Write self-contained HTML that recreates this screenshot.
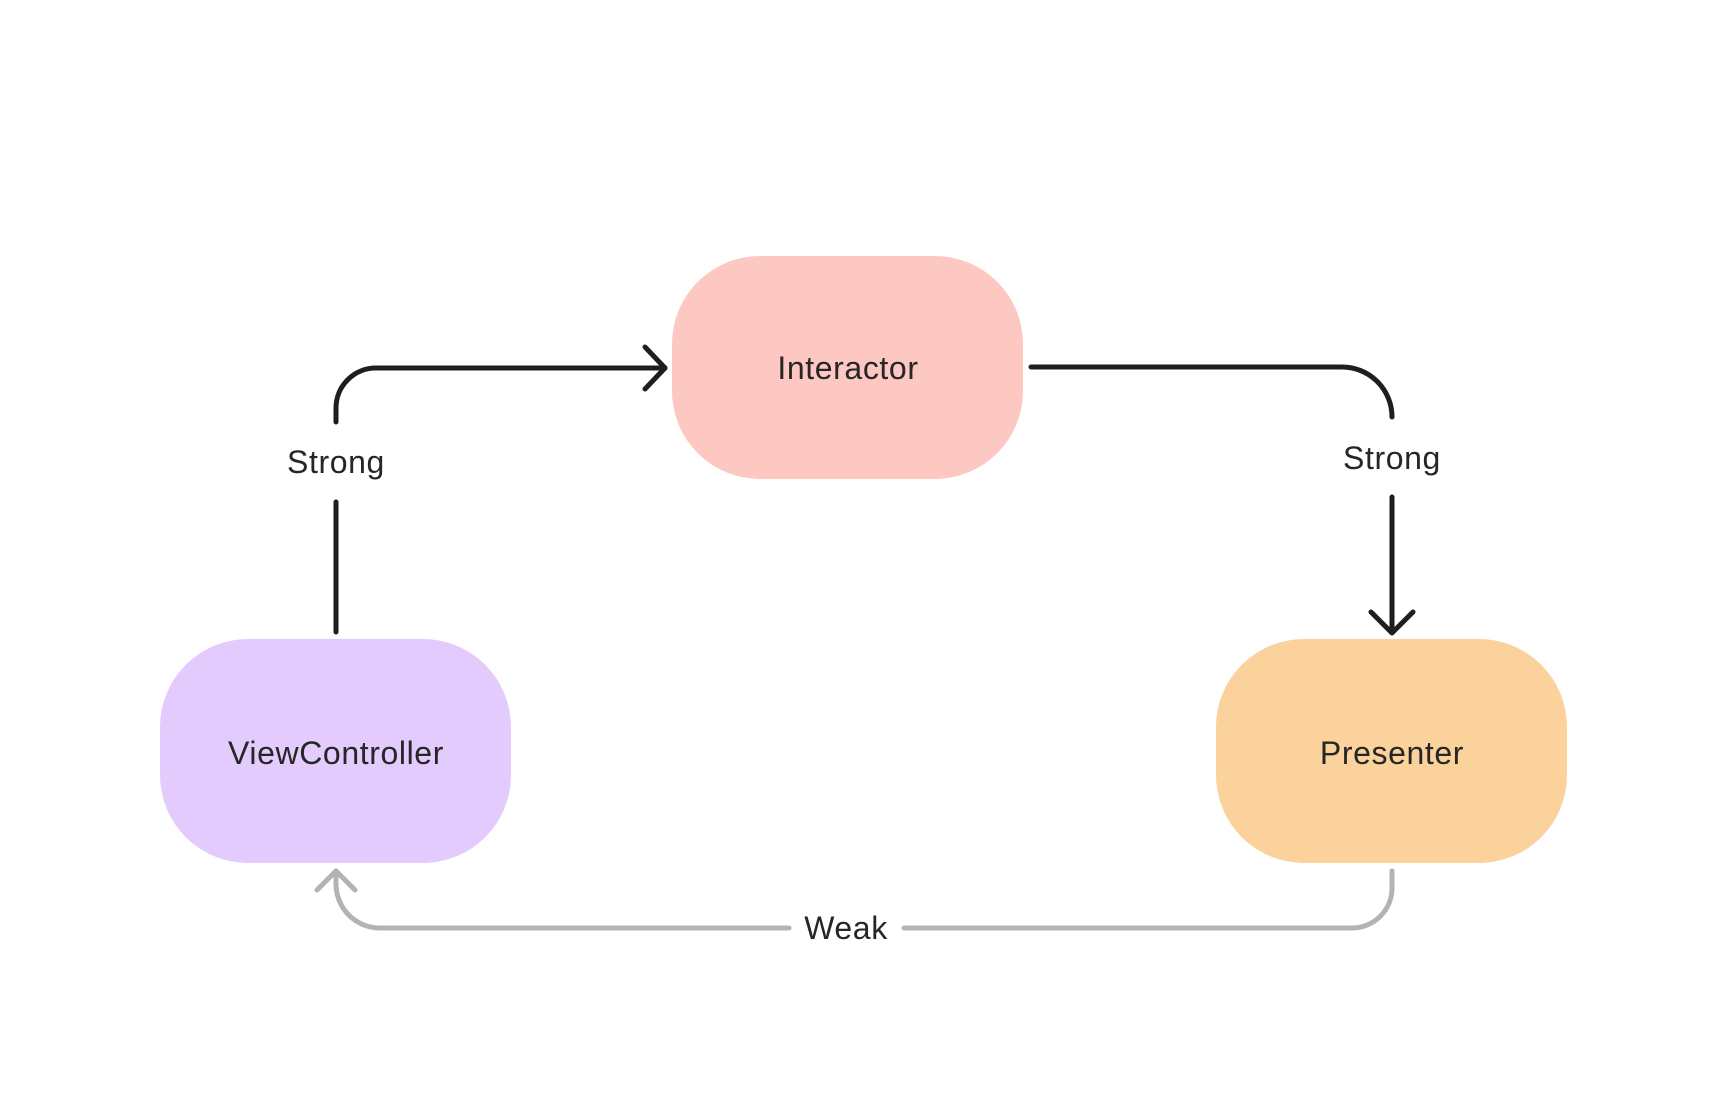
<!DOCTYPE html>
<html><head><meta charset="utf-8"><style>
html,body{margin:0;padding:0;background:#fff;width:1728px;height:1120px;overflow:hidden}
svg{display:block}
text{font-family:"Liberation Sans",sans-serif;font-size:32px;fill:#262626;text-anchor:middle;letter-spacing:0.6px}
</style></head><body>
<svg width="1728" height="1120" viewBox="0 0 1728 1120">
<rect x="672" y="256" width="351" height="223" rx="88" fill="#fdc7c2"/>
<rect x="160" y="639" width="351" height="224" rx="88" fill="#e3cbfd"/>
<rect x="1216" y="639" width="351" height="224" rx="88" fill="#fbd29c"/>
<text x="848" y="379">Interactor</text>
<text x="336" y="764">ViewController</text>
<text x="1392" y="764">Presenter</text>
<g fill="none" stroke="#1e1e1e" stroke-width="5" stroke-linecap="round" stroke-linejoin="round">
<path d="M336 422 V408 A40 40 0 0 1 376 368 H665"/>
<path d="M645 347 L665 368 L645 389"/>
<path d="M336 502 V632"/>
<path d="M1031 367 H1342 A50 50 0 0 1 1392 417"/>
<path d="M1392 497 V632"/>
<path d="M1371 612 L1392 633 L1413 612"/>
</g>
<g fill="none" stroke="#b3b3b3" stroke-width="5" stroke-linecap="round" stroke-linejoin="round">
<path d="M1392 871 V888 A40 40 0 0 1 1352 928 H904"/>
<path d="M789 928 H380 A44 44 0 0 1 336 884 V871"/>
<path d="M317 890 L336 871 L355 890"/>
</g>
<text x="336" y="473">Strong</text>
<text x="1392" y="469">Strong</text>
<text x="846" y="939">Weak</text>
</svg>
</body></html>
